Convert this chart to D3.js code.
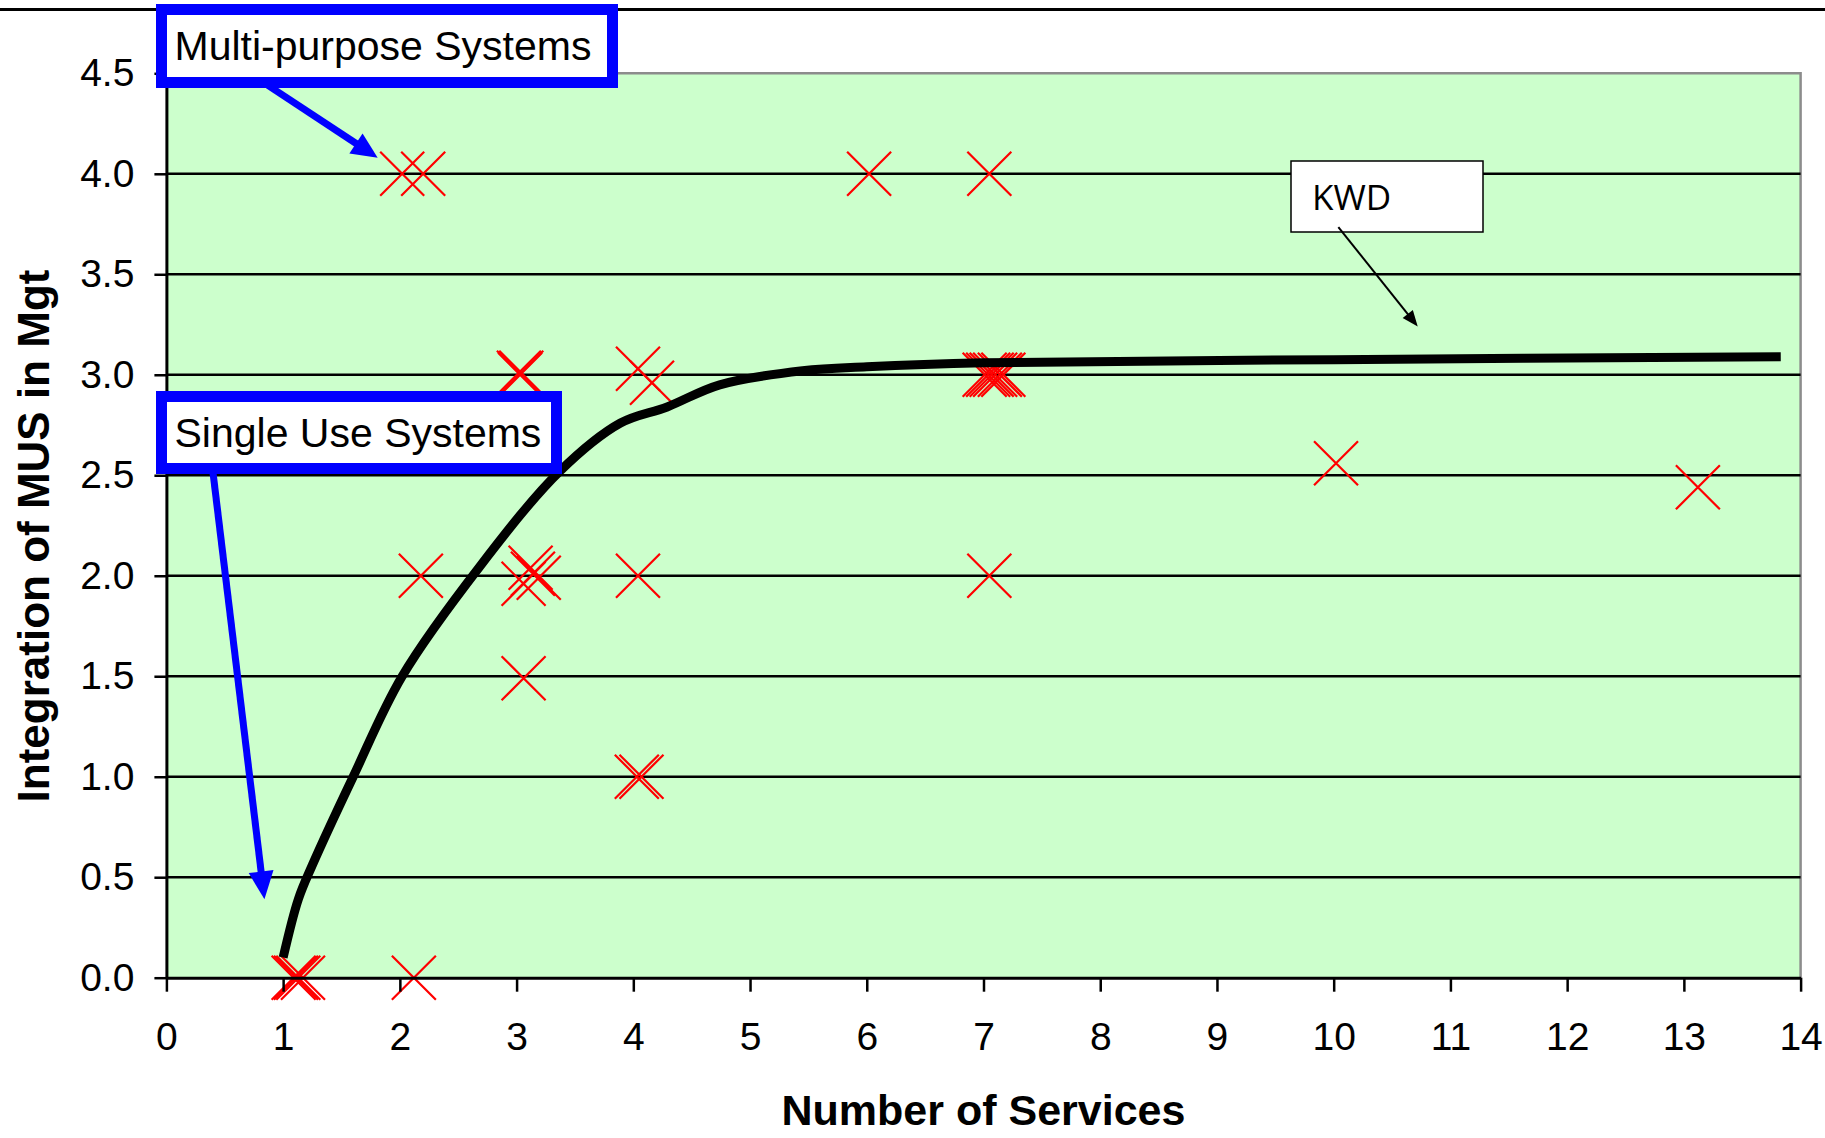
<!DOCTYPE html>
<html>
<head>
<meta charset="utf-8">
<script src="https://cdn.jsdelivr.net/npm/d3@7"></script>
<style>
  body { margin: 0; background: #fff; }
  svg { display: block; }
</style>
</head>
<body>
<div id="chart"></div>
<script>
// Axis ticks
const xTicks = d3.range(0, 15);
const yTicks = [0, 0.5, 1, 1.5, 2, 2.5, 3, 3.5, 4, 4.5];

// Survey points (number of services vs. integration score)
const servicesX = [2.02, 2.20, 6.02, 7.05,
  3.02, 3.03, 3.04, 4.04, 4.16,
  7.01, 7.04, 7.07, 7.10, 7.14, 7.17,
  10.02, 13.12,
  2.18, 3.06, 3.12, 3.14, 3.19, 4.04, 7.05,
  3.06,
  4.03, 4.07,
  1.09, 1.11, 1.13, 1.17, 2.12];
const mgtY = [4.0, 4.0, 4.0, 4.0,
  3.01, 3.0, 3.01, 3.03, 2.96,
  3.0, 3.0, 3.0, 3.0, 3.0, 3.0,
  2.56, 2.44,
  2.0, 1.96, 2.04, 2.01, 1.99, 2.0, 2.0,
  1.49,
  1.0, 1.0,
  0, 0, 0, 0, 0];

// KWD trend curve
const kwdX = [1.0, 1.13, 1.25, 1.6, 2.02, 2.69, 3.37, 3.89, 4.29, 4.74, 5.45, 6.0, 7.0, 10, 13.83];
const kwdY = [0.1, 0.39, 0.56, 1.0, 1.5, 2.05, 2.52, 2.76, 2.84, 2.95, 3.02, 3.04, 3.06, 3.075, 3.09];

const width = 1825, height = 1138;
const plot = { left: 166.4, right: 1800.6, top: 73.3, bottom: 977.7 };

const svg = d3.select("#chart").append("svg")
  .attr("width", width)
  .attr("height", height);

const x = d3.scaleLinear().domain([0, 14]).range([plot.left, plot.right]);
const y = d3.scaleLinear().domain([0, 4.5]).range([plot.bottom, plot.top]);

// top rule of the figure
svg.append("line")
  .attr("x1", 0).attr("x2", width)
  .attr("y1", 9.5).attr("y2", 9.5)
  .attr("stroke", "#000").attr("stroke-width", 3);

// plot background
svg.append("rect")
  .attr("x", plot.left).attr("y", plot.top)
  .attr("width", plot.right - plot.left)
  .attr("height", plot.bottom - plot.top)
  .attr("fill", "#CCFFCC");

// gray border top/right
svg.append("path")
  .attr("d", `M${plot.left},${plot.top}H${plot.right}V${plot.bottom}`)
  .attr("fill", "none")
  .attr("stroke", "#8c8c8c")
  .attr("stroke-width", 2.5);

// gridlines
svg.append("g")
  .selectAll("line")
  .data(yTicks.filter(d => d > 0 && d < 4.5))
  .join("line")
  .attr("x1", plot.left).attr("x2", plot.right)
  .attr("y1", d => y(d)).attr("y2", d => y(d))
  .attr("stroke", "#000")
  .attr("stroke-width", 2.5);

// markers
const r = 22;
svg.append("g")
  .selectAll("path")
  .data(servicesX.map((d, i) => [d, mgtY[i]]))
  .join("path")
  .attr("d", d => {
    const cx = x(d[0]), cy = y(d[1]);
    return `M${cx - r},${cy - r}L${cx + r},${cy + r}M${cx - r},${cy + r}L${cx + r},${cy - r}`;
  })
  .attr("fill", "none")
  .attr("stroke", "#FF0000")
  .attr("stroke-width", 2.2);

// KWD curve
const line = d3.line()
  .x((d, i) => x(kwdX[i]))
  .y(d => y(d))
  .curve(d3.curveCatmullRom.alpha(0.5));

svg.append("path")
  .datum(kwdY)
  .attr("fill", "none")
  .attr("stroke", "#000")
  .attr("stroke-width", 9)
  .attr("d", line);

// Axes
const xAxis = svg.append("g")
  .attr("transform", `translate(0,${plot.bottom})`)
  .call(d3.axisBottom(x).tickValues(xTicks).tickSize(14).tickSizeOuter(0).tickPadding(31));

const yAxis = svg.append("g")
  .attr("transform", `translate(${plot.left},0)`)
  .call(d3.axisLeft(y).tickValues(yTicks).tickFormat(d3.format(".1f")).tickSize(12).tickSizeOuter(0).tickPadding(20));

[xAxis, yAxis].forEach(g => {
  g.select(".domain").attr("stroke", "#000").attr("stroke-width", 3);
  g.selectAll(".tick line").attr("stroke", "#000").attr("stroke-width", 2.5);
  g.selectAll(".tick text")
    .attr("fill", "#000")
    .style("font-family", "'Liberation Sans', Arial, sans-serif")
    .style("font-size", "39px");
});

// axis titles
svg.append("text")
  .attr("x", (plot.left + plot.right) / 2)
  .attr("y", 1125)
  .attr("text-anchor", "middle")
  .style("font-family", "'Liberation Sans', Arial, sans-serif")
  .style("font-weight", "bold")
  .style("font-size", "43px")
  .text("Number of Services");

svg.append("text")
  .attr("transform", "translate(49,536) rotate(-90)")
  .attr("text-anchor", "middle")
  .style("font-family", "'Liberation Sans', Arial, sans-serif")
  .style("font-weight", "bold")
  .style("font-size", "44px")
  .text("Integration of MUS in Mgt");

// arrow helper
function arrow(x1, y1, x2, y2, w, headLen, headW, color) {
  const dx = x2 - x1, dy = y2 - y1;
  const len = Math.hypot(dx, dy);
  const ux = dx / len, uy = dy / len;
  const bx = x2 - ux * headLen, by = y2 - uy * headLen;
  svg.append("line")
    .attr("x1", x1).attr("y1", y1)
    .attr("x2", bx + ux * 2).attr("y2", by + uy * 2)
    .attr("stroke", color).attr("stroke-width", w);
  svg.append("path")
    .attr("d", `M${x2},${y2}L${bx - uy * headW / 2},${by + ux * headW / 2}L${bx + uy * headW / 2},${by - ux * headW / 2}Z`)
    .attr("fill", color);
}

// Callout boxes
function callout(bx, by, bw, bh, label) {
  svg.append("rect")
    .attr("x", bx).attr("y", by)
    .attr("width", bw).attr("height", bh)
    .attr("fill", "#fff")
    .attr("stroke", "#0000FF")
    .attr("stroke-width", 11);
  svg.append("text")
    .attr("x", bx + 13)
    .attr("y", by + bh / 2 + 14)
    .style("font-family", "'Liberation Sans', Arial, sans-serif")
    .style("font-size", "41px")
    .text(label);
}

arrow(x(0.87), y(4.44), x(1.81), y(4.08), 7, 26, 24, "#0000FF");
arrow(x(0.40), y(2.51), x(0.84), y(0.39), 7, 28, 25, "#0000FF");

callout(161.5, 9.5, 451, 73, "Multi-purpose Systems");
callout(161.5, 396.5, 395, 72, "Single Use Systems");

// KWD label
svg.append("rect")
  .attr("x", 1291).attr("y", 161)
  .attr("width", 192).attr("height", 71)
  .attr("fill", "#fff")
  .attr("stroke", "#000")
  .attr("stroke-width", 1.5);
svg.append("text")
  .attr("x", 1312)
  .attr("y", 210)
  .style("font-family", "'Open Sans', 'Noto Sans', sans-serif")
  .style("font-size", "35px")
  .text("KWD");
arrow(x(10.04), y(3.735), x(10.72), y(3.24), 2, 16, 13, "#000");
</script>
</body>
</html>
